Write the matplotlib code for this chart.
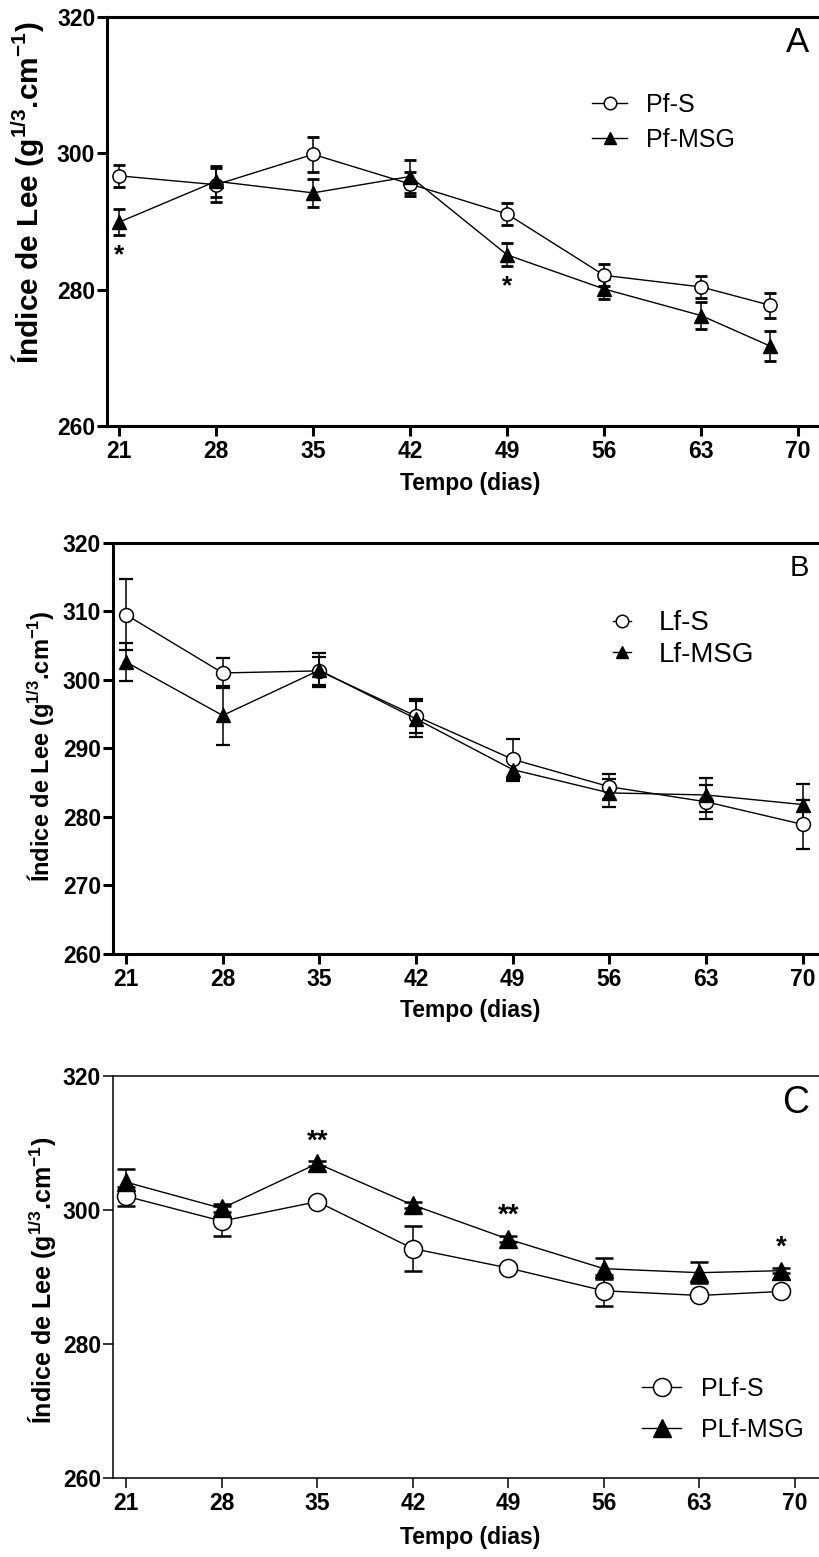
import matplotlib
matplotlib.use("Agg")
import matplotlib.pyplot as plt

plt.rcParams['font.family'] = ['Liberation Sans', 'DejaVu Sans']
plt.rcParams['mathtext.fontset'] = 'custom'
plt.rcParams['mathtext.rm'] = 'Liberation Sans'
plt.rcParams['mathtext.bf'] = 'Liberation Sans:bold'
plt.rcParams['mathtext.it'] = 'Liberation Sans:italic'

# ---------------- data ----------------
days_A = [21, 28, 35, 42, 49, 56, 63, 68]
pf_s = [296.7, 295.4, 299.85, 295.5, 291.1, 282.1, 280.4, 277.7]
pf_s_err = [1.6, 2.5, 2.6, 1.7, 1.6, 1.6, 1.6, 1.8]
pf_msg = [289.9, 295.9, 294.2, 296.6, 285.1, 280.1, 276.2, 271.7]
pf_msg_err = [1.9, 2.3, 2.1, 2.4, 1.7, 1.5, 2.0, 2.2]
stars_A_x = [21, 49]
stars_A_y = [285.9, 281.3]
stars_A_txt = ['*', '*']

days_B = [21, 28, 35, 42, 49, 56, 63, 70]
lf_s = [309.5, 301.0, 301.3, 294.7, 288.4, 284.4, 282.2, 278.9]
lf_s_err = [5.2, 2.2, 2.0, 2.5, 2.9, 1.8, 2.5, 3.6]
lf_msg = [302.6, 294.8, 301.4, 294.3, 286.9, 283.5, 283.2, 281.8]
lf_msg_err = [2.8, 4.3, 2.5, 2.6, 1.7, 2.0, 2.5, 3.0]

days_C = [21, 28, 35, 42, 49, 56, 63, 69]
plf_s = [302.0, 298.3, 301.2, 294.2, 291.3, 287.9, 287.2, 287.8]
plf_s_err = [1.4, 2.2, 0.4, 3.4, 0.4, 2.3, 0.4, 0.4]
plf_msg = [304.1, 300.2, 306.9, 300.7, 295.6, 291.2, 290.6, 290.9]
plf_msg_err = [2.0, 0.6, 0.4, 0.4, 0.4, 1.6, 1.6, 0.4]
stars_C_x = [35, 49, 69]
stars_C_y = [311.0, 300.0, 295.2]
stars_C_txt = ['**', '**', '*']

xticks = [21, 28, 35, 42, 49, 56, 63, 70]
yticks_A = [260, 280, 300, 320]
yticks_B = [260, 270, 280, 290, 300, 310, 320]
yticks_C = [260, 280, 300, 320]

ylabel = r"Índice de Lee (g$^{\mathbf{1/3}}$.cm$^{\mathbf{-1}}$)"
xlabel = "Tempo (dias)"

W, H = 819, 1557
fig = plt.figure(figsize=(W / 100, H / 100), dpi=100)


def px_axes(left, top, bottom):
    return fig.add_axes([left / W, 1 - bottom / H, 1 - left / W, (bottom - top) / H])


panels = [
    dict(rect=(107, 17, 426), xlim=(20.13, 71.5), yticks=yticks_A, x=days_A,
         s=pf_s, se=pf_s_err, m=pf_msg, me=pf_msg_err, labels=('Pf-S', 'Pf-MSG'),
         letter='A', letter_y=42, letter_fs=25, spw=2.2, ms=9.5, cap=4.3, capth=2.0,
         leg=(592, 122.5), leg_fs=18, hl=1.4, htp=0.76, ls=0.45, leg_ms=9,
         ylab=(28, 193), ylab_fs=21.5, xlab_y=-0.113,
         stars=(stars_A_x, stars_A_y, stars_A_txt), star_fs=19),
    dict(rect=(112.7, 542.7, 954), xlim=(20.04, 71.17), yticks=yticks_B, x=days_B,
         s=lf_s, se=lf_s_err, m=lf_msg, me=lf_msg_err, labels=('Lf-S', 'Lf-MSG'),
         letter='B', letter_y=568, letter_fs=21, spw=2.2, ms=10, cap=5.2, capth=1.6,
         leg=(612.7, 639), leg_fs=20, hl=0.65, htp=1.0, ls=0.2, leg_ms=9,
         ylab=(40.8, 746), ylab_fs=17, xlab_y=-0.109,
         stars=None, star_fs=19),
    dict(rect=(112.7, 1075.7, 1477.7), xlim=(20.0, 71.77), yticks=yticks_C, x=days_C,
         s=plf_s, se=plf_s_err, m=plf_msg, me=plf_msg_err, labels=('PLf-S', 'PLf-MSG'),
         letter='C', letter_y=1103, letter_fs=27, spw=1.1, ms=13, cap=6.3, capth=1.8,
         leg=(642, 1409.5), leg_fs=18, hl=1.56, htp=0.8, ls=0.69, leg_ms=13,
         ylab=(42.5, 1280), ylab_fs=18, xlab_y=-0.12,
         stars=(stars_C_x, stars_C_y, stars_C_txt), star_fs=20),
]

for p in panels:
    left, top, bottom = p['rect']
    ax = px_axes(left, top, bottom)
    ax.set_xlim(*p['xlim'])
    ax.set_ylim(260, 320)
    ax.set_xticks(xticks)
    ax.set_yticks(p['yticks'])
    for sp in ['left', 'bottom', 'top']:
        ax.spines[sp].set_linewidth(p['spw'])
    ax.spines['right'].set_visible(False)
    ax.tick_params(axis='both', direction='out', length=7, width=p['spw'],
                   labelsize=16.5)
    ax.tick_params(axis='y', pad=1.5)
    ax.tick_params(axis='x', pad=3.2)
    for lab in ax.get_xticklabels() + ax.get_yticklabels():
        lab.set_fontweight('bold')

    # error bars
    ax.errorbar(p['x'], p['s'], yerr=p['se'], fmt='none', ecolor='black',
                elinewidth=1.1, capsize=p['cap'], capthick=p['capth'], zorder=2)
    ax.errorbar(p['x'], p['m'], yerr=p['me'], fmt='none', ecolor='black',
                elinewidth=1.1, capsize=p['cap'], capthick=p['capth'], zorder=2)
    # lines + markers
    ax.plot(p['x'], p['s'], color='black', lw=1.0, marker='o', ms=p['ms'],
            mfc='white', mec='black', mew=1.1, label=p['labels'][0], zorder=3)
    ax.plot(p['x'], p['m'], color='black', lw=1.0, marker='^', ms=p['ms'],
            mfc='black', mec='black', mew=1.0, label=p['labels'][1], zorder=4)

    if p['stars'] is not None:
        for sx, sy, st in zip(*p['stars']):
            # asterisk glyph sits high in the text box; shift so its centre is at (sx, sy)
            ax.annotate(st, xy=(sx, sy), xytext=(0, -0.22 * p['star_fs']),
                        textcoords='offset points', ha='center', va='center',
                        fontsize=p['star_fs'], fontweight='bold')

    ax.text((809 - left) / (W - left), (bottom - p['letter_y']) / (bottom - top),
            p['letter'], transform=ax.transAxes, ha='right', va='center',
            fontsize=p['letter_fs'])

    lx, ly = p['leg']
    leg = ax.legend(loc='center left',
                    bbox_to_anchor=(lx / W, 1 - ly / H), bbox_transform=fig.transFigure,
                    frameon=False, fontsize=p['leg_fs'], handlelength=p['hl'],
                    handletextpad=p['htp'], labelspacing=p['ls'], borderpad=0,
                    borderaxespad=0, markerscale=p['leg_ms'] / p['ms'])

    ax.set_xlabel(xlabel, fontsize=16.5, fontweight='bold')
    ax.xaxis.set_label_coords((470 - left) / (W - left), p['xlab_y'])
    ax.xaxis.label.set_va('top')

    fig.text(p['ylab'][0] / W, 1 - p['ylab'][1] / H, ylabel, rotation=90,
             ha='center', va='center', fontsize=p['ylab_fs'], fontweight='bold')

fig.savefig('out.png', dpi=100)
